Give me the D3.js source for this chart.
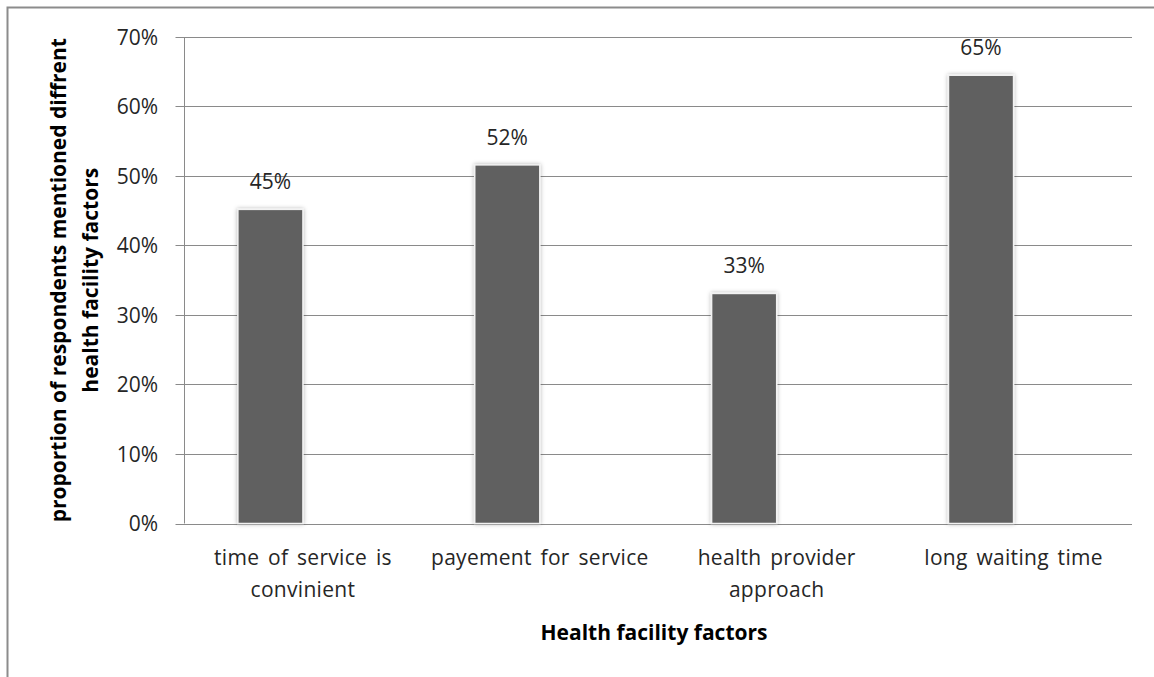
<!DOCTYPE html>
<html>
<head>
<meta charset="utf-8">
<script src="https://cdn.jsdelivr.net/npm/d3@7.9.0/dist/d3.min.js"></script>
<style>
  html, body { margin: 0; padding: 0; background: #fff; }
  svg { display: block; }
  text { font-family: "Open Sans", Lato, sans-serif; fill: #262626; }
</style>
</head>
<body>
<svg id="chart" width="1154" height="677"></svg>
<script>
// ---- data ----
const categories = [
  ['time of service is', 'convinient'],
  ['payement for service'],
  ['health provider', 'approach'],
  ['long waiting time']
];
const values = [0.452, 0.516, 0.331, 0.645];
const valueLabels = ['45%', '52%', '33%', '65%'];
const yTicks = [0, 0.1, 0.2, 0.3, 0.4, 0.5, 0.6, 0.7];
const yTitle = ['proportion  of respondents mentioned diffrent', 'health facility factors'];
const xTitle = 'Health facility factors';

const svg = d3.select('#chart');
const margin = { left: 184.5, right: 1132, top: 37, bottom: 523.5 };

// chart frame (only left & top edges fall inside the picture)
svg.append('path')
  .attr('d', 'M7.5,700 V7.5 H1170')
  .attr('fill', 'none')
  .attr('stroke', '#8c8c8c')
  .attr('stroke-width', 2);

const keys = categories.map((c, i) => i);
const x = d3.scaleBand().domain(keys).range([margin.left, margin.right]).padding(0);
// two slots per category (second empty), like a clustered column layout
const slot = d3.scaleBand().domain(['a', 'b']).range([0, x.bandwidth()])
  .paddingInner(0).paddingOuter(0.82);
const y = d3.scaleLinear().domain([0, 0.7]).range([margin.bottom, margin.top]);

// gridlines
svg.append('g')
  .selectAll('line')
  .data(yTicks)
  .join('line')
  .attr('x1', margin.left - 9)
  .attr('x2', margin.right)
  .attr('y1', d => Math.round(y(d)) + 0.5)
  .attr('y2', d => Math.round(y(d)) + 0.5)
  .attr('stroke', '#8a8a8a')
  .attr('stroke-width', 1);

// y axis line
svg.append('line')
  .attr('x1', margin.left).attr('x2', margin.left)
  .attr('y1', margin.top).attr('y2', margin.bottom)
  .attr('stroke', '#8a8a8a');

// y tick labels
svg.append('g')
  .selectAll('text')
  .data(yTicks)
  .join('text')
  .attr('x', 158)
  .attr('y', d => y(d) + 7.5)
  .attr('text-anchor', 'end')
  .style('font-size', '21px')
  .text(d3.format('.0%'));

// bar shadow
const defs = svg.append('defs');
const f = defs.append('filter').attr('id', 'glow')
  .attr('x', '-20%').attr('y', '-10%').attr('width', '140%').attr('height', '120%');
f.append('feDropShadow').attr('dx', 0).attr('dy', 0).attr('stdDeviation', 2)
  .attr('flood-color', '#000').attr('flood-opacity', 0.3);

// bars
svg.append('g')
  .selectAll('rect')
  .data(values)
  .join('rect')
  .attr('x', (d, i) => x(i) + slot('a'))
  .attr('width', slot.bandwidth())
  .attr('y', d => y(d))
  .attr('height', d => y(0) - y(d))
  .attr('fill', '#606060')
  .attr('stroke', '#f2f2f2')
  .attr('stroke-width', 1.5)
  .attr('filter', 'url(#glow)');

// value labels
svg.append('g')
  .selectAll('text')
  .data(values)
  .join('text')
  .attr('x', (d, i) => x(i) + slot('a') + slot.bandwidth() / 2)
  .attr('y', d => y(d) - 20)
  .attr('text-anchor', 'middle')
  .style('font-size', '21px')
  .text((d, i) => valueLabels[i]);

// category labels
const cat = svg.append('g')
  .selectAll('text')
  .data(categories)
  .join('text')
  .attr('text-anchor', 'middle')
  .style('font-size', '21px')
  .style('letter-spacing', '0.3px')
  .style('word-spacing', '3px');
cat.selectAll('tspan')
  .data((d, i) => d.map(line => ({ line, i })))
  .join('tspan')
  .attr('x', d => x(d.i) + x.bandwidth() / 2)
  .attr('y', (d, j) => 565 + j * 32)
  .text(d => d.line);

// x title
svg.append('text')
  .attr('x', 654)
  .attr('y', 640)
  .attr('text-anchor', 'middle')
  .style('font-size', '21px')
  .style('font-weight', 'bold')
  .style('fill', '#000')
  .text(xTitle);

// y title
svg.append('text')
  .attr('transform', 'translate(0,' + ((margin.top + margin.bottom) / 2) + ') rotate(-90)')
  .attr('text-anchor', 'middle')
  .style('font-size', '21px')
  .style('font-weight', 'bold')
  .style('fill', '#000')
  .selectAll('tspan')
  .data(yTitle)
  .join('tspan')
  .attr('x', 0)
  .attr('y', (d, i) => 66 + i * 32)
  .text(d => d);
</script>
</body>
</html>
